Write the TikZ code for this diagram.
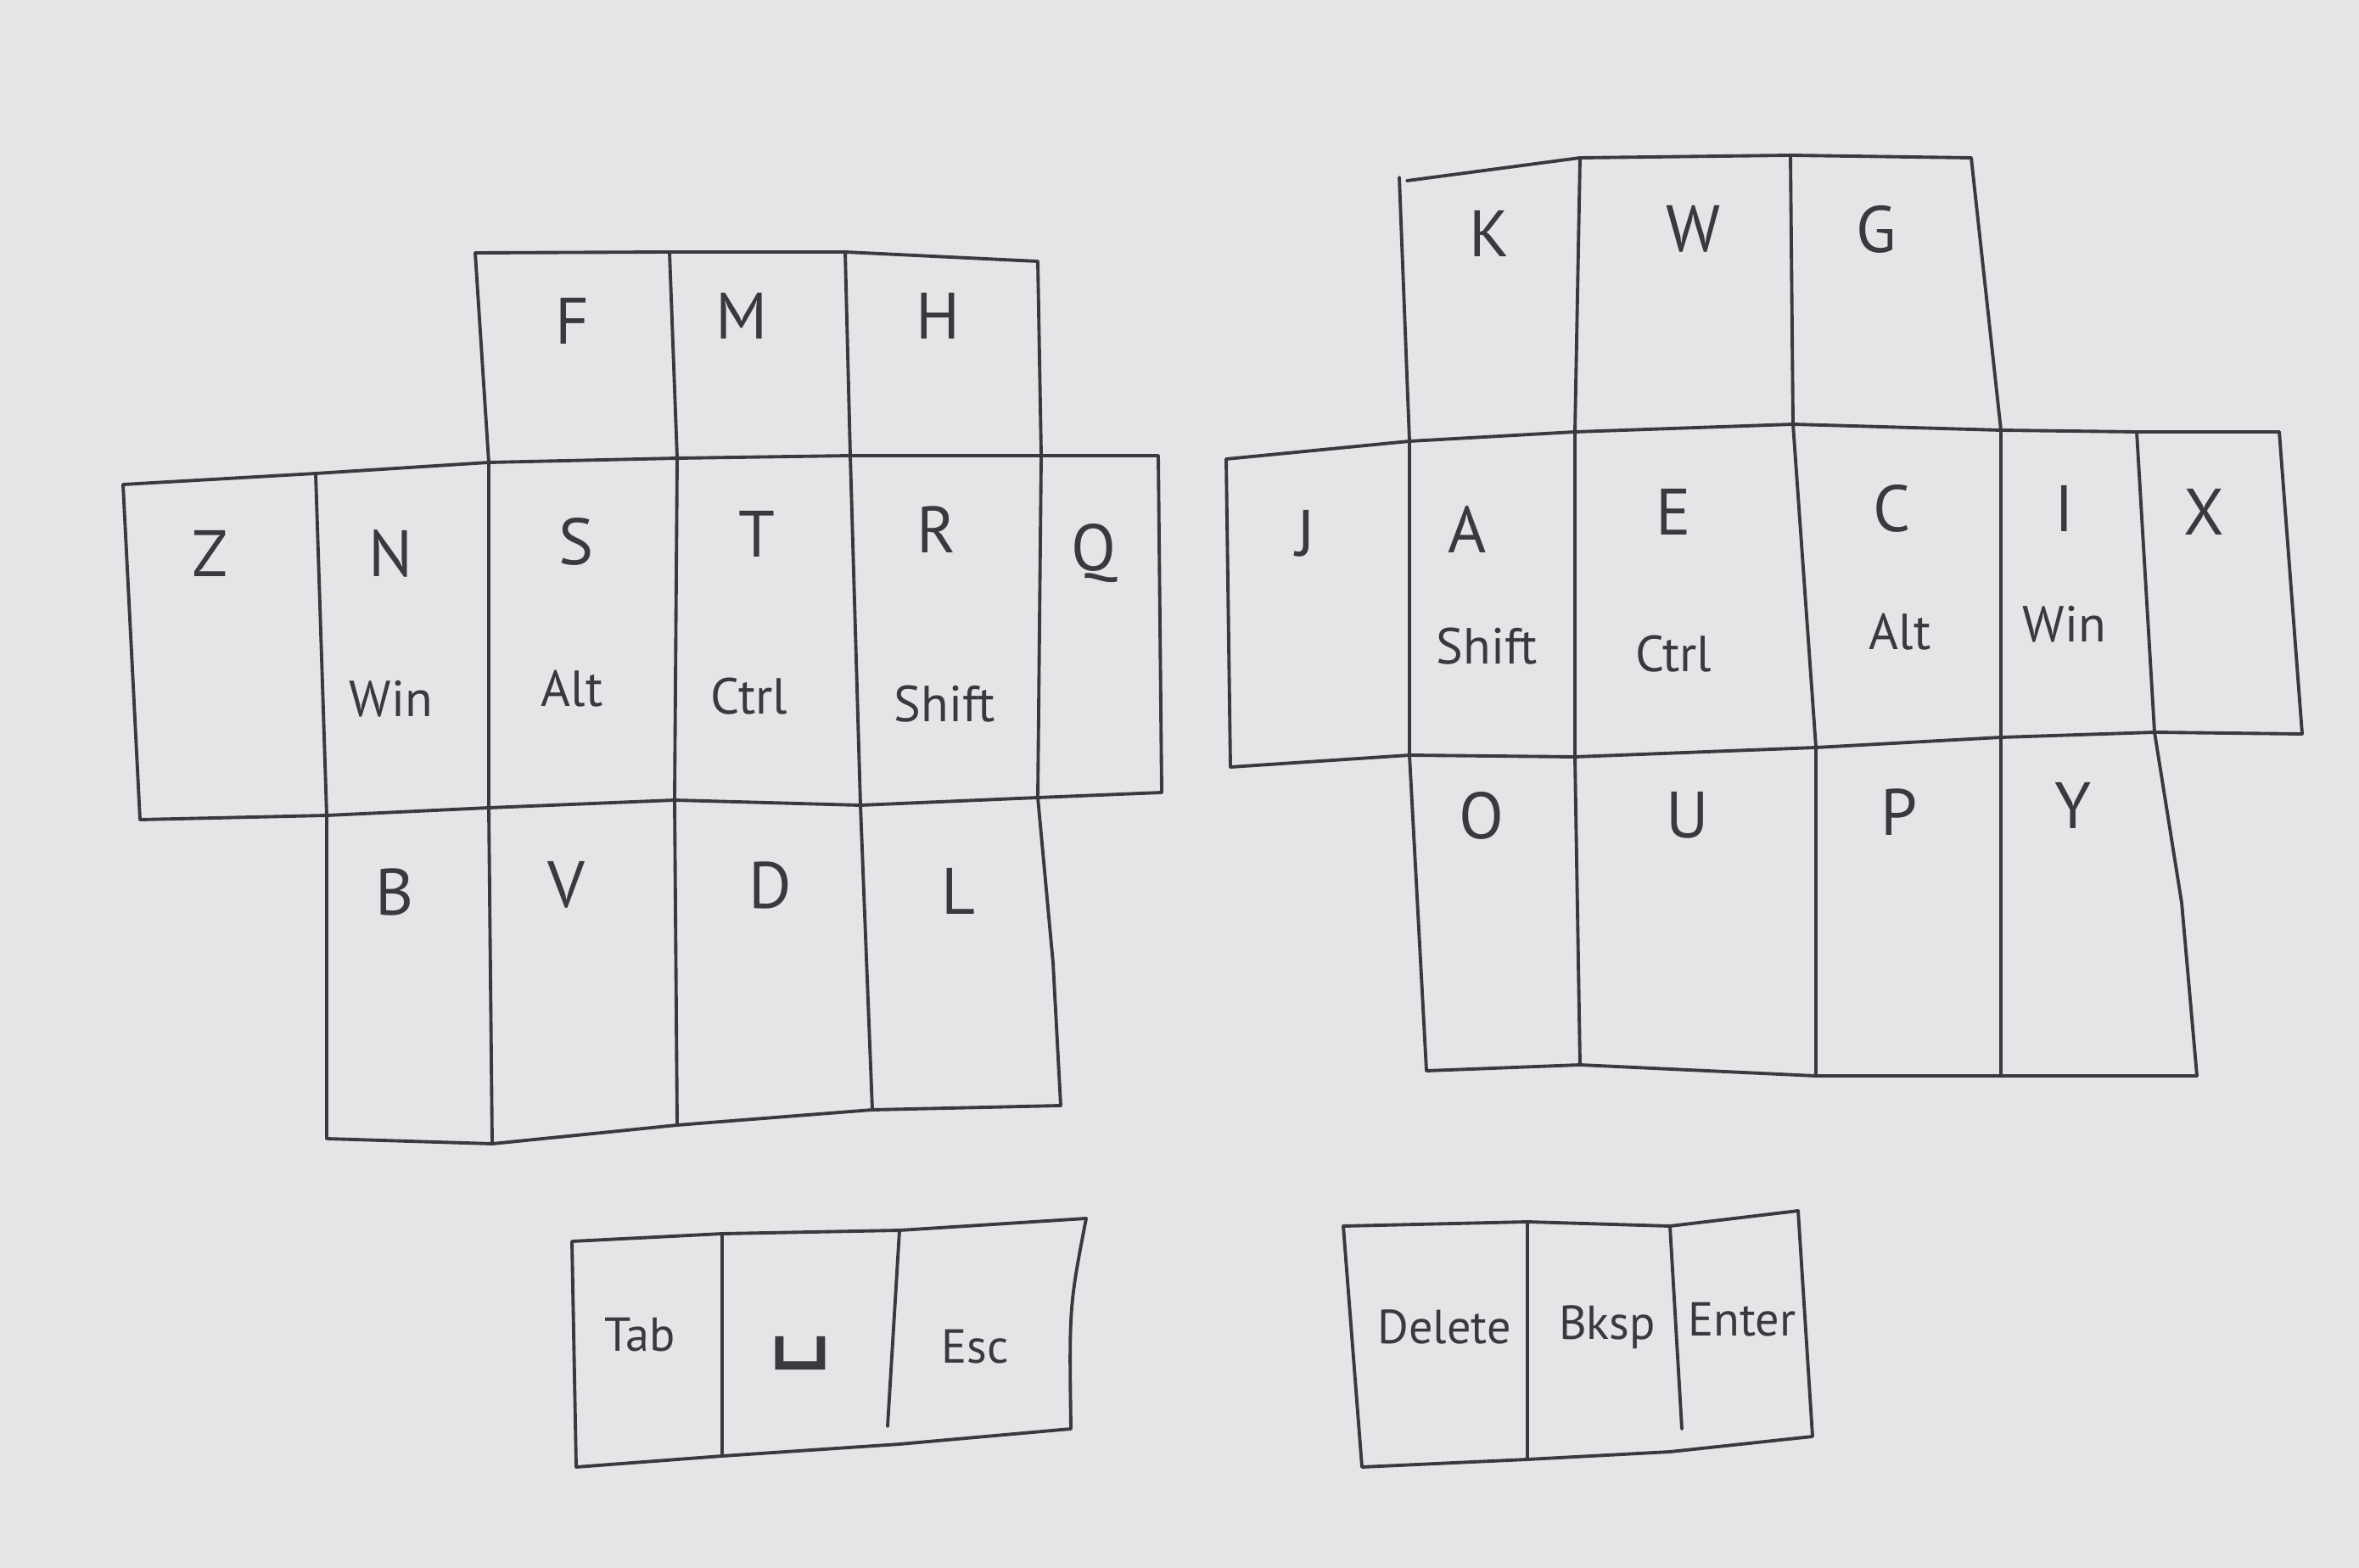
\documentclass[tikz,border=0pt]{standalone}
\usepackage{fontspec}
\setmainfont{PT Sans}
\newfontfamily\symfont{DejaVu Sans}
\definecolor{paper}{RGB}{228,229,231}
\definecolor{pencil}{RGB}{58,58,62}
\begin{document}
\begin{tikzpicture}[x=1cm,y=-1cm,line cap=round,line join=round,
  pen/.style={draw=pencil,line width=1.1pt},
  ltr/.style={text=pencil,font=\fontsize{22}{24}\selectfont},
  mod/.style={text=pencil,font=\fontsize{17}{19}\selectfont},
  thb/.style={text=pencil,font=\fontsize{16}{18}\selectfont}]
\useasboundingbox[fill=paper](0,0)rectangle(27.8,18.48);
% left half
\draw[pen](5.60,2.98)--(7.89,2.97)--(9.96,2.97)--(12.23,3.08);
\draw[pen](1.45,5.71)--(3.72,5.58)--(5.76,5.45)--(7.98,5.40)--(10.02,5.37)--(12.27,5.37)--(13.65,5.37);
\draw[pen](1.65,9.66)--(3.85,9.61)--(5.76,9.52)--(7.95,9.43)--(10.14,9.49)--(12.23,9.40)--(13.69,9.34);
\draw[pen](3.85,13.42)--(5.80,13.48)--(7.98,13.26)--(10.28,13.08)--(12.50,13.03);
\draw[pen](1.45,5.71)--(1.65,9.66) (13.65,5.37)--(13.69,9.34);
\draw[pen](3.72,5.58)--(3.85,9.61)--(3.85,13.42);
\draw[pen](5.60,2.98)--(5.76,5.45)--(5.76,9.52)--(5.80,13.48);
\draw[pen](7.89,2.97)--(7.98,5.40)--(7.95,9.43)--(7.98,13.26);
\draw[pen](9.96,2.97)--(10.02,5.37)--(10.14,9.49)--(10.28,13.08);
\draw[pen](12.23,3.08)--(12.27,5.37)--(12.23,9.40)--(12.41,11.35)--(12.50,13.03);
\path(6.74,3.78)node[ltr](f){F} (8.74,3.72)node[ltr](m){M} (11.05,3.72)node[ltr](h){H};
\path(2.48,6.52)node[ltr](z){Z} (12.89,6.52)node[ltr](q){Q};
\path(4.61,6.52)node[ltr](n){N} ++(0,1.72)node[mod](winL){Win};
\path(6.79,6.38)node[ltr](s){S} ++(-0.05,1.74)node[mod](altL){Alt};
\path(8.92,6.29)node[ltr](t){T} ++(-0.09,1.92)node[mod](ctrlL){Ctrl};
\path(11.03,6.24)node[ltr](r){R} ++(0.10,2.06)node[mod](shiftL){Shift};
\path(4.65,10.51)node[ltr](b){B} (6.67,10.43)node[ltr](v){V} (9.08,10.43)node[ltr](d){D} (11.29,10.50)node[ltr](l){L};
% right half
\draw[pen](16.58,2.13)--(18.62,1.86)--(21.10,1.83)--(23.23,1.86);
\draw[pen](14.45,5.41)--(16.61,5.20)--(18.56,5.09)--(21.13,5.00)--(23.58,5.07)--(25.18,5.09)--(26.86,5.09);
\draw[pen](14.50,9.04)--(16.61,8.90)--(18.56,8.92)--(21.40,8.81)--(23.58,8.69)--(25.39,8.63)--(27.13,8.65);
\draw[pen](16.81,12.62)--(18.62,12.55)--(21.40,12.68)--(23.58,12.68)--(25.89,12.68);
\draw[pen](14.45,5.41)--(14.50,9.04) (26.86,5.09)--(27.13,8.65);
\draw[pen](16.49,2.09)--(16.61,5.20)--(16.61,8.90)--(16.81,12.62);
\draw[pen](18.62,1.86)--(18.56,5.09)--(18.56,8.92)--(18.62,12.55);
\draw[pen](21.10,1.83)--(21.13,5.00)--(21.40,8.81)--(21.40,12.68);
\draw[pen](23.23,1.86)--(23.58,5.07)--(23.58,8.69)--(23.58,12.68);
\draw[pen](25.18,5.09)--(25.39,8.63)--(25.71,10.64)--(25.89,12.68);
\path(17.55,2.75)node[ltr](k){K} (19.95,2.70)node[ltr](w){W} (22.11,2.70)node[ltr](g){G};
\path(15.39,6.29)node[ltr](j){J} (25.97,6.03)node[ltr](x){X};
\path(17.29,6.24)node[ltr](a){A} ++(0.23,1.38)node[mod](shiftR){Shift};
\path(19.72,6.03)node[ltr](e){E} ++(0,1.68)node[mod](ctrlR){Ctrl};
\path(22.30,5.99)node[ltr](c){C} ++(0.09,1.46)node[mod](altR){Alt};
\path(24.33,5.99)node[ltr](i){I} ++(0,1.37)node[mod](winR){Win};
\path(17.46,9.61)node[ltr](o){O} (19.89,9.61)node[ltr](u){U} (22.38,9.57)node[ltr](p){P} (24.43,9.49)node[ltr](y){Y};
% thumb keys
\draw[pen](6.74,14.63)--(8.51,14.54)--(10.60,14.50)--(12.80,14.36) .. controls (12.60,15.40) .. (12.62,16.84)--(10.60,17.02)--(8.51,17.16)--(6.79,17.29)--cycle;
\draw[pen](8.51,14.54)--(8.51,17.16) (10.60,14.50)--(10.46,16.81);
\draw[pen](15.83,14.45)--(18.00,14.40)--(19.68,14.45)--(21.19,14.27)--(21.36,16.93)--(19.68,17.11)--(18.00,17.20)--(16.05,17.29)--cycle;
\draw[pen](18.00,14.40)--(18.00,17.20) (19.68,14.45)--(19.82,16.84);
\path(7.54,15.73)node[thb](tab){Tab} (9.43,15.95)node[thb,font=\fontsize{34}{36}\symfont](spc){␣} (11.49,15.87)node[thb](esc){Esc};
\path(17.02,15.64)node[thb](del){Delete} (18.94,15.64)node[thb](bksp){Bksp} (20.53,15.55)node[thb](ent){Enter};
\end{tikzpicture}
\end{document}
